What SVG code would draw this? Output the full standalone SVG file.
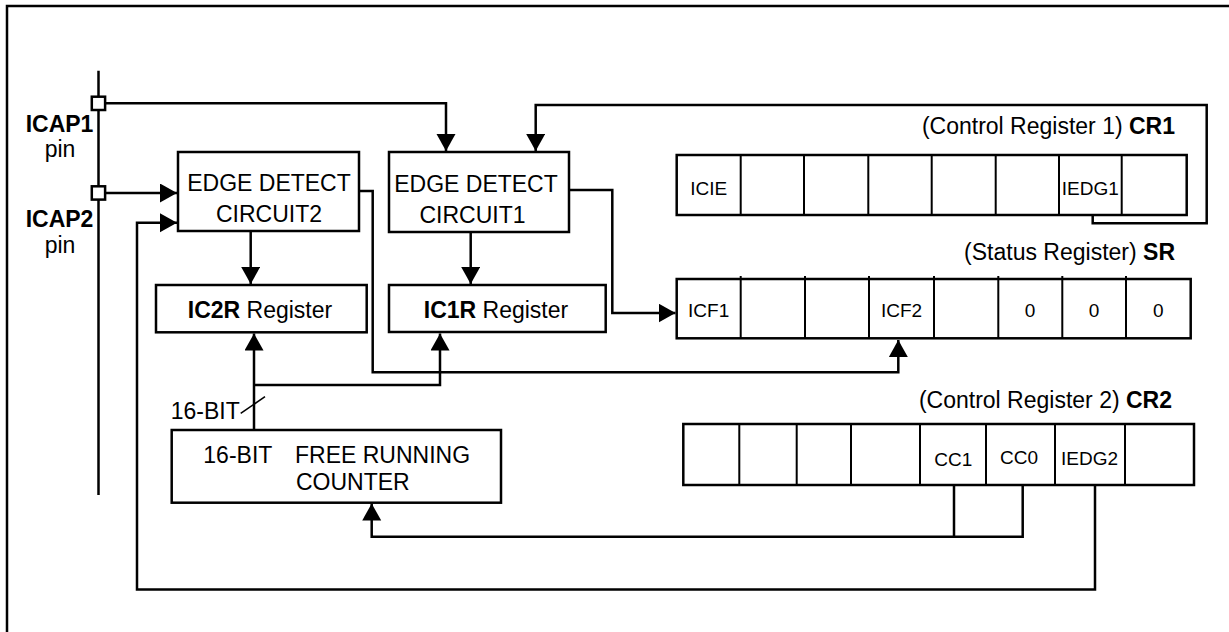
<svg xmlns="http://www.w3.org/2000/svg" width="1229" height="632" viewBox="0 0 1229 632">
<style>
.ln{fill:none;stroke:#000;stroke-width:2.5}
.thin{fill:none;stroke:#000;stroke-width:1.6}
.box{fill:#fff;stroke:#000;stroke-width:2.5}
.dv{stroke:#000;stroke-width:2}
.t{font-family:"Liberation Sans",Arial,Helvetica,sans-serif;font-size:23px;fill:#000}
.m{text-anchor:middle}
.e{text-anchor:end}
.c{font-size:19px;text-anchor:middle}
.b{font-weight:bold}
</style>
<defs>
<marker id="ah" markerUnits="userSpaceOnUse" markerWidth="18" markerHeight="20" refX="17" refY="9.5" orient="auto">
<path d="M0,0 L17,9.5 L0,19 z" fill="#000"/>
</marker>
</defs>
<rect width="1229" height="632" fill="#fff"/>
<path class="ln" d="M7,632 V6 H1229"/>

<g id="connectors">
<path class="ln" d="M98.5,70.7 V495"/>
<path class="ln" d="M105,103.3 H446 V151" marker-end="url(#ah)"/>
<path class="ln" d="M105,193 H177" marker-end="url(#ah)"/>
<path class="ln" d="M1095,484 V589.5 H137 V222.7 H177" marker-end="url(#ah)"/>
<path class="ln" d="M250.7,231 V284" marker-end="url(#ah)"/>
<path class="ln" d="M470.7,232 V284" marker-end="url(#ah)"/>
<path class="ln" d="M1092.7,214 V223.3 H1206.7 V105 H535.7 V151" marker-end="url(#ah)"/>
<path class="ln" d="M359,191 H372.7 V372.3 H898.3 V340" marker-end="url(#ah)"/>
<path class="ln" d="M569,190 H612.3 V313 H675.5" marker-end="url(#ah)"/>
<path class="ln" d="M254,430 V333.5" marker-end="url(#ah)"/>
<path class="ln" d="M254,385 H440 V333.5" marker-end="url(#ah)"/>
<path class="thin" d="M240.7,413.3 L265,396.7"/>
<path class="ln" d="M954,485 V536.7 H1022.7 V485"/>
<path class="ln" d="M954,536.7 H371.7 V503.5" marker-end="url(#ah)"/>
</g>

<g id="pins">
<rect class="box" x="91.8" y="96.7" width="13.3" height="13.3" stroke-width="2"/>
<rect class="box" x="91.8" y="186.3" width="13.3" height="13.3" stroke-width="2"/>
<text class="t b m" x="59.5" y="131.5" font-size="22">ICAP1</text>
<text class="t m" x="60" y="157" font-size="22">pin</text>
<text class="t b m" x="59.5" y="226.5" font-size="22">ICAP2</text>
<text class="t m" x="60" y="253" font-size="22">pin</text>
</g>

<g id="edge2">
<rect class="box" x="178" y="152" width="181" height="79"/>
<text class="t m" x="269" y="190.7">EDGE DETECT</text>
<text class="t m" x="269" y="221.7">CIRCUIT2</text>
</g>

<g id="edge1">
<rect class="box" x="389" y="152" width="180" height="80"/>
<text class="t m" x="476" y="191.5">EDGE DETECT</text>
<text class="t m" x="472.5" y="223.3">CIRCUIT1</text>
</g>

<g id="ic2r">
<rect class="box" x="156" y="285" width="210.7" height="47.3"/>
<text class="t m" x="260" y="318.3"><tspan class="b">IC2R</tspan> Register</text>
</g>

<g id="ic1r">
<rect class="box" x="389" y="285" width="216.7" height="47"/>
<text class="t m" x="496" y="317.7"><tspan class="b">IC1R</tspan> Register</text>
</g>

<g id="counter">
<rect class="box" x="171.7" y="430" width="329.3" height="72.7"/>
<text class="t" x="203.3" y="463.3" font-size="25.5">16-BIT</text>
<text class="t" x="295" y="463.3">FREE RUNNING</text>
<text class="t" x="296" y="490">COUNTER</text>
<text class="t" x="170.7" y="419" font-size="22.5">16-BIT</text>
</g>

<g id="cr1">
<text class="t e" x="1175" y="134"><tspan>(Control Register 1) </tspan><tspan class="b">CR1</tspan></text>
<rect class="box" x="676.7" y="155" width="510" height="60"/>
<path class="dv" d="M740.7,155V215 M804,155V215 M868.3,155V215 M931.7,155V215 M995.7,155V215 M1059,155V215 M1121.7,155V215"/>
<text class="t c" x="708.7" y="195">ICIE</text>
<text class="t c" x="1090.3" y="195">IEDG1</text>
</g>

<g id="sr">
<text class="t e" x="1175" y="259.5"><tspan>(Status Register) </tspan><tspan class="b">SR</tspan></text>
<rect class="box" x="676.7" y="279" width="514" height="59.3"/>
<path class="dv" d="M740.7,276V338 M805,276V338 M869,276V338 M934,276V338 M998.3,276V338 M1062.3,276V338 M1126,276V338"/>
<text class="t c" x="708.7" y="317.3">ICF1</text>
<text class="t c" x="901.5" y="317.3">ICF2</text>
<text class="t c" x="1030" y="317.3">0</text>
<text class="t c" x="1094" y="317.3">0</text>
<text class="t c" x="1158.3" y="317.3">0</text>
</g>

<g id="cr2">
<text class="t e" x="1172" y="408.3"><tspan>(Control Register 2) </tspan><tspan class="b">CR2</tspan></text>
<rect class="box" x="683.3" y="424" width="510.7" height="61"/>
<path class="dv" d="M739.3,424V485 M796.7,424V485 M851,424V485 M920,424V485 M986,424V485 M1055,424V485 M1125,424V485"/>
<text class="t c" x="953.3" y="466">CC1</text>
<text class="t c" x="1019" y="464.3">CC0</text>
<text class="t c" x="1089.5" y="465">IEDG2</text>
</g>
</svg>
